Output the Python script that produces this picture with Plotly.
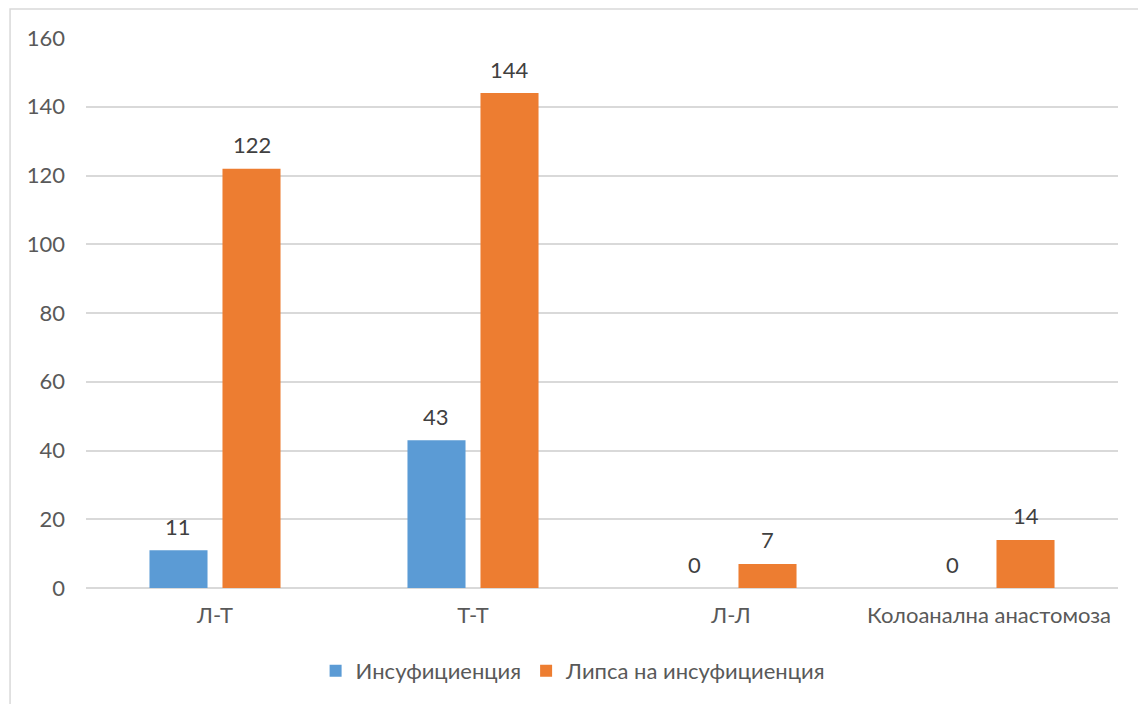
import plotly.graph_objects as go

categories = ["Л-Т", "Т-Т", "Л-Л", "Колоанална анастомоза"]
insufficiency = [11, 43, 0, 0]
no_insufficiency = [122, 144, 7, 14]
series_names = ["Инсуфициенция", "Липса на инсуфициенция"]
y_ticks = [0, 20, 40, 60, 80, 100, 120, 140, 160]

BLUE = "#5b9bd5"
ORANGE = "#ed7d31"
TEXT = "#595959"
GRID = "#d9d9d9"
FONT = "Lato, 'Open Sans', sans-serif"
FS = 22

fig = go.Figure()
fig.add_trace(go.Bar(x=categories, y=insufficiency, name=series_names[0],
                     marker=dict(color=BLUE, line=dict(width=0))))
fig.add_trace(go.Bar(x=categories, y=no_insufficiency, name=series_names[1],
                     marker=dict(color=ORANGE, line=dict(width=0))))

# value labels above each bar (bar centres sit at +/-0.1415 of a category)
annotations = []
for i, cat in enumerate(categories):
    for val, off in ((insufficiency[i], -0.1415), (no_insufficiency[i], 0.1415)):
        annotations.append(dict(
            x=i + off, y=val, xref="x", yref="y", text=str(val),
            showarrow=False, yanchor="middle", yshift=24,
            font=dict(family=FONT, size=FS, color="#404040")))

fig.update_layout(
    width=1138, height=704,
    margin=dict(l=86, r=20, t=38, b=116),
    paper_bgcolor="white", plot_bgcolor="white",
    font=dict(family=FONT, size=FS, color=TEXT),
    barmode="group", bargap=0.434, bargroupgap=0.205,
    showlegend=True,
    legend=dict(orientation="h", x=0.472, xanchor="center", y=-0.151,
                yanchor="middle", font=dict(size=FS, color=TEXT),
                itemwidth=30, traceorder="normal"),
    annotations=annotations,
    shapes=[dict(type="rect", xref="paper", yref="paper",
                 x0=-0.0736, x1=1.03, y0=-0.25, y1=1.0527,
                 line=dict(color=GRID, width=1.5), layer="below")],
)
fig.update_xaxes(showgrid=False, showline=False, ticks="",
                 ticklabelstandoff=12, tickfont=dict(size=FS, color=TEXT))
fig.update_yaxes(range=[0, 160], tickvals=y_ticks, showgrid=True,
                 gridcolor=GRID, gridwidth=1.5, zeroline=True,
                 zerolinecolor=GRID, zerolinewidth=1.5, showline=False,
                 ticks="", ticklabelstandoff=20,
                 tickfont=dict(size=FS, color=TEXT))

fig.write_html("out.html")
